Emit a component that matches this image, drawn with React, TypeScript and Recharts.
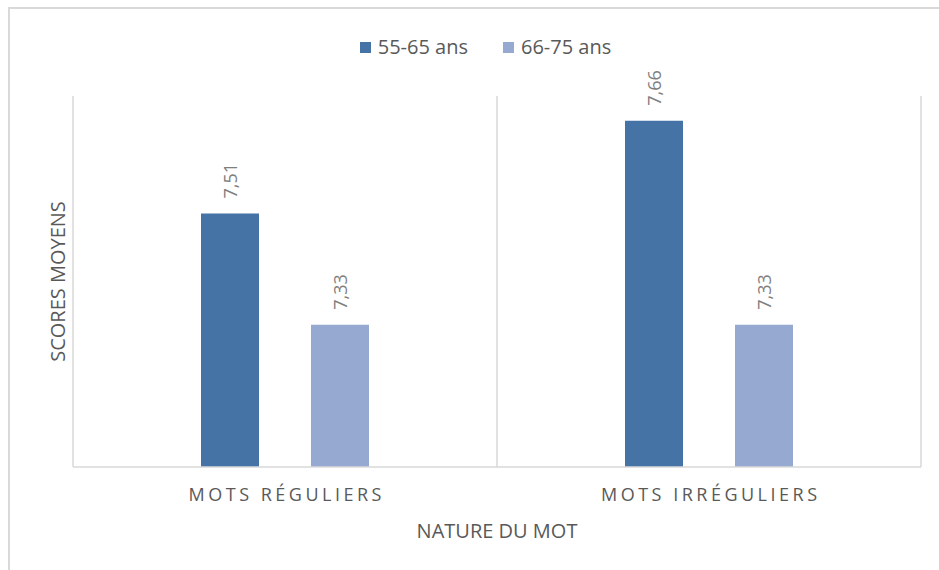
import { Bar, BarChart, CartesianGrid, LabelList, XAxis, YAxis } from "recharts";

const categories = ["MOTS RÉGULIERS", "MOTS IRRÉGULIERS"];
const age5565 = [7.51, 7.66];
const age6675 = [7.33, 7.33];
const seriesNames = ["55-65 ans", "66-75 ans"];
const colors = ["#4673A6", "#95A9D1"];
const yDomain = [7.1, 7.7];

const data = categories.map((name, i) => ({
  name,
  a: age5565[i],
  b: age6675[i],
}));

const FONT = "'Open Sans', sans-serif";
const GRID = "#d9d9d9";

const fmt = (v: number) => v.toFixed(2).replace(".", ",");

const BarValue = (props: any) => {
  const { x, y, width, value } = props;
  const cx = Number(x) + Number(width) / 2;
  const y0 = Number(y) - 15;
  return (
    <text
      x={cx}
      y={y0}
      transform={`rotate(-90, ${cx}, ${y0})`}
      textAnchor="start"
      dominantBaseline="central"
      fontFamily={FONT}
      fontSize={18}
      fill="#7f7f7f"
    >
      {fmt(Number(value))}
    </text>
  );
};

const CategoryTick = (props: any) => {
  const { x, y, payload } = props;
  return (
    <text
      x={x}
      y={y + 27}
      dx={1.75}
      textAnchor="middle"
      dominantBaseline="central"
      fontFamily={FONT}
      fontSize={18}
      letterSpacing={3.5}
      fill="#595959"
    >
      {payload.value}
    </text>
  );
};

// legend row above the plot
const LegendBox = () => (
  <div
    style={{
      position: "absolute",
      top: 35,
      left: 0,
      width: 939,
      display: "flex",
      justifyContent: "center",
      alignItems: "center",
      paddingLeft: 32,
      boxSizing: "border-box",
      fontFamily: FONT,
      fontSize: 20,
      lineHeight: "24px",
      color: "#595959",
    }}
  >
    {seriesNames.map((s, i) => (
      <div
        key={s}
        style={{ display: "flex", alignItems: "center", marginLeft: i ? 35 : 0 }}
      >
        <span
          style={{
            width: 11,
            height: 11,
            background: colors[i],
            marginRight: 7,
            display: "inline-block",
          }}
        />
        <span>{s}</span>
      </div>
    ))}
  </div>
);

export default function App() {
  return (
    <div
      style={{
        position: "absolute",
        left: 0,
        top: 0,
        width: 939,
        height: 570,
        background: "#fff",
        overflow: "hidden",
      }}
    >
      {/* outer chart frame, only top and left edges are visible */}
      <div
        style={{
          position: "absolute",
          left: 8,
          top: 7,
          width: 940,
          height: 570,
          borderTop: `2px solid ${GRID}`,
          borderLeft: `2px solid ${GRID}`,
        }}
      />
      <LegendBox />
      <BarChart
        width={939}
        height={570}
        data={data}
        margin={{ top: 96, right: 18, bottom: 0, left: 0 }}
        barSize={58}
        barGap={52}
        style={{ position: "absolute", left: 0, top: 0 }}
      >
        <CartesianGrid
          horizontal={false}
          stroke={GRID}
          strokeWidth={1.5}
          verticalCoordinatesGenerator={({ offset }: any) => [
            offset.left,
            offset.left + offset.width / 2,
            offset.left + offset.width,
          ]}
        />
        <XAxis
          dataKey="name"
          height={103}
          tickLine={false}
          tickSize={0}
          tickMargin={0}
          axisLine={{ stroke: GRID, strokeWidth: 1.5 }}
          tick={<CategoryTick />}
          label={({ viewBox }: any) => (
            <text
              x={viewBox.x + viewBox.width / 2}
              y={viewBox.y + 63}
              textAnchor="middle"
              dominantBaseline="central"
              fontFamily={FONT}
              fontSize={20}
              fill="#595959"
            >
              NATURE DU MOT
            </text>
          )}
        />
        <YAxis
          width={73}
          domain={yDomain}
          allowDataOverflow
          axisLine={false}
          tickLine={false}
          tick={false}
          label={({ viewBox }: any) => {
            const cx = viewBox.x + viewBox.width - 16;
            const cy = viewBox.y + viewBox.height / 2;
            return (
              <text
                x={cx}
                y={cy}
                transform={`rotate(-90, ${cx}, ${cy})`}
                textAnchor="middle"
                dominantBaseline="central"
                fontFamily={FONT}
                fontSize={20}
                fill="#595959"
              >
                SCORES MOYENS
              </text>
            );
          }}
        />
        <Bar dataKey="a" name={seriesNames[0]} fill={colors[0]} isAnimationActive={false}>
          <LabelList dataKey="a" content={<BarValue />} />
        </Bar>
        <Bar dataKey="b" name={seriesNames[1]} fill={colors[1]} isAnimationActive={false}>
          <LabelList dataKey="b" content={<BarValue />} />
        </Bar>
      </BarChart>
    </div>
  );
}
